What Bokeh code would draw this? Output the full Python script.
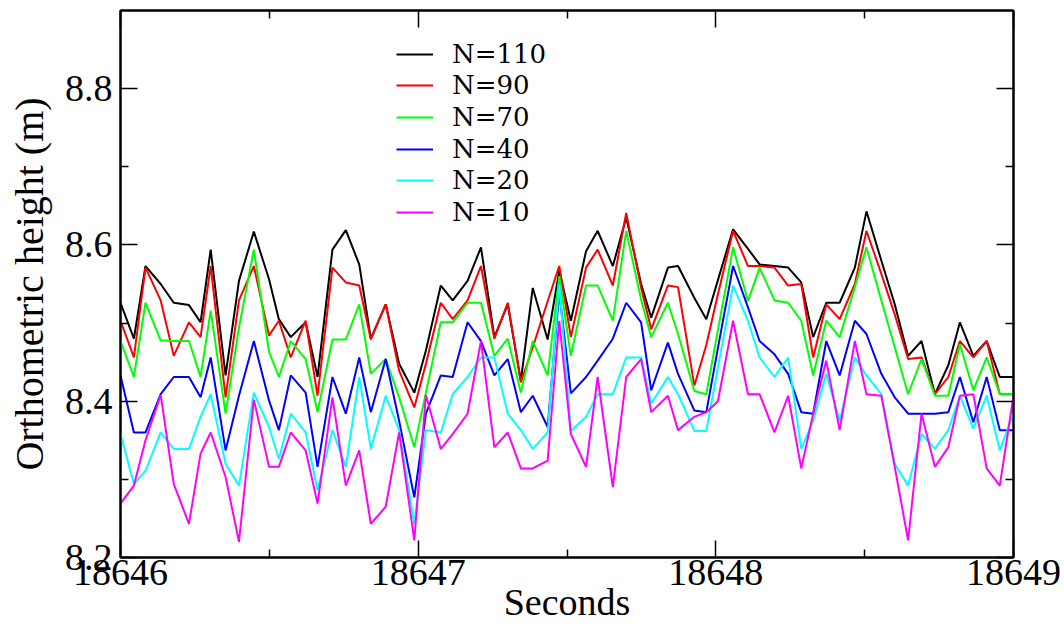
from bokeh.plotting import figure
from bokeh.models import (FixedTicker, LinearAxis, Legend, LegendItem,
                          Range1d, NumeralTickFormatter)
from bokeh.embed import file_html
from bokeh.resources import INLINE

# time stamps (s)
t = [18646.000, 18646.045, 18646.084, 18646.135, 18646.179, 18646.230, 18646.269,
     18646.303, 18646.353, 18646.398, 18646.448, 18646.499, 18646.532, 18646.572,
     18646.622, 18646.662, 18646.712, 18646.757, 18646.802, 18646.841, 18646.891,
     18646.936, 18646.987, 18647.026, 18647.076, 18647.116, 18647.166, 18647.211,
     18647.256, 18647.301, 18647.345, 18647.385, 18647.435, 18647.474, 18647.513,
     18647.564, 18647.603, 18647.654, 18647.699, 18647.749, 18647.783, 18647.839,
     18647.873, 18647.928, 18647.968, 18648.007, 18648.058, 18648.108, 18648.147,
     18648.197, 18648.243, 18648.287, 18648.327, 18648.371, 18648.416, 18648.467,
     18648.506, 18648.556, 18648.601, 18648.646, 18648.691, 18648.736, 18648.781,
     18648.820, 18648.865, 18648.910, 18648.954, 18649.000]

n110 = [8.526, 8.480, 8.573, 8.550, 8.526, 8.523, 8.501, 8.594, 8.433, 8.554,
        8.617, 8.556, 8.505, 8.482, 8.501, 8.431, 8.594, 8.619, 8.575, 8.480,
        8.524, 8.448, 8.411, 8.465, 8.548, 8.529, 8.554, 8.597, 8.482, 8.524,
        8.426, 8.545, 8.479, 8.567, 8.503, 8.592, 8.618, 8.573, 8.635, 8.550,
        8.507, 8.571, 8.573, 8.532, 8.505, 8.555, 8.620, 8.595, 8.575, 8.573,
        8.571, 8.552, 8.482, 8.526, 8.526, 8.571, 8.643, 8.580, 8.524, 8.458,
        8.477, 8.409, 8.446, 8.501, 8.458, 8.477, 8.431, 8.431]

n90 = [8.503, 8.456, 8.571, 8.529, 8.458, 8.501, 8.482, 8.573, 8.405, 8.529,
       8.573, 8.484, 8.503, 8.456, 8.503, 8.407, 8.571, 8.552, 8.548, 8.479,
       8.524, 8.439, 8.392, 8.448, 8.526, 8.505, 8.529, 8.573, 8.480, 8.526,
       8.424, 8.469, 8.528, 8.573, 8.482, 8.571, 8.594, 8.548, 8.641, 8.545,
       8.492, 8.548, 8.546, 8.420, 8.472, 8.537, 8.618, 8.573, 8.573, 8.571,
       8.548, 8.550, 8.456, 8.524, 8.505, 8.550, 8.618, 8.563, 8.511, 8.454,
       8.456, 8.409, 8.431, 8.477, 8.456, 8.477, 8.409, 8.409]

n70 = [8.477, 8.431, 8.526, 8.478, 8.477, 8.477, 8.431, 8.516, 8.384, 8.494,
       8.594, 8.463, 8.431, 8.477, 8.454, 8.386, 8.479, 8.479, 8.524, 8.435,
       8.454, 8.405, 8.341, 8.411, 8.501, 8.501, 8.526, 8.526, 8.458, 8.480,
       8.411, 8.477, 8.433, 8.560, 8.458, 8.548, 8.548, 8.503, 8.618, 8.530,
       8.482, 8.526, 8.486, 8.413, 8.409, 8.491, 8.597, 8.528, 8.571, 8.529,
       8.526, 8.503, 8.433, 8.503, 8.482, 8.546, 8.597, 8.529, 8.469, 8.409,
       8.454, 8.407, 8.407, 8.473, 8.414, 8.456, 8.409, 8.409]

n40 = [8.433, 8.360, 8.360, 8.409, 8.431, 8.431, 8.405, 8.456, 8.337, 8.407,
       8.477, 8.401, 8.363, 8.433, 8.411, 8.316, 8.431, 8.384, 8.456, 8.386,
       8.454, 8.375, 8.277, 8.384, 8.433, 8.431, 8.501, 8.477, 8.433, 8.454,
       8.386, 8.407, 8.367, 8.540, 8.410, 8.431, 8.452, 8.480, 8.526, 8.501,
       8.414, 8.475, 8.435, 8.388, 8.386, 8.468, 8.573, 8.520, 8.477, 8.460,
       8.435, 8.386, 8.384, 8.477, 8.433, 8.503, 8.486, 8.435, 8.405, 8.384,
       8.384, 8.384, 8.386, 8.431, 8.373, 8.431, 8.363, 8.363]

n20 = [8.358, 8.294, 8.311, 8.360, 8.339, 8.339, 8.380, 8.409, 8.320, 8.292,
       8.411, 8.367, 8.326, 8.384, 8.360, 8.286, 8.363, 8.316, 8.431, 8.339,
       8.407, 8.363, 8.243, 8.363, 8.360, 8.409, 8.431, 8.456, 8.456, 8.384,
       8.363, 8.339, 8.360, 8.550, 8.362, 8.380, 8.409, 8.409, 8.456, 8.456,
       8.397, 8.431, 8.409, 8.362, 8.362, 8.443, 8.548, 8.503, 8.456, 8.431,
       8.456, 8.339, 8.375, 8.435, 8.375, 8.456, 8.433, 8.409, 8.320, 8.292,
       8.358, 8.339, 8.363, 8.407, 8.365, 8.407, 8.337, 8.384]

n10 = [8.269, 8.292, 8.350, 8.408, 8.294, 8.243, 8.333, 8.360, 8.303, 8.220,
       8.402, 8.316, 8.316, 8.360, 8.337, 8.269, 8.405, 8.292, 8.337, 8.243,
       8.265, 8.360, 8.222, 8.408, 8.339, 8.358, 8.384, 8.477, 8.341, 8.360,
       8.314, 8.314, 8.324, 8.503, 8.358, 8.316, 8.431, 8.290, 8.431, 8.454,
       8.386, 8.407, 8.363, 8.380, 8.386, 8.400, 8.503, 8.409, 8.409, 8.360,
       8.407, 8.314, 8.384, 8.452, 8.363, 8.477, 8.409, 8.407, 8.316, 8.222,
       8.384, 8.316, 8.341, 8.407, 8.409, 8.314, 8.292, 8.407]

series_labels = ["N=110", "N=90", "N=70", "N=40", "N=20", "N=10"]
series_colors = ["#000000", "#ff0000", "#00ff00", "#0000ff", "#00ffff", "#ff00ff"]
series_values = [n110, n90, n70, n40, n20, n10]

x_ticks = [18646, 18647, 18648, 18649]
x_minor = [18646.5, 18647.5, 18648.5]
y_ticks = [8.2, 8.4, 8.6, 8.8]
y_minor = [8.3, 8.5, 8.7]

FONT = "Liberation Serif"
LEGEND_FONT = "DejaVu Serif"
FRAME_H = 547

p = figure(width=1064, height=626, output_backend="svg", toolbar_location=None,
           x_range=Range1d(18646, 18649), y_range=Range1d(8.2, 8.9),
           min_border_left=120, min_border_right=51, min_border_top=10,
           min_border_bottom=69, background_fill_color="white",
           border_fill_color="white")
p.xgrid.visible = False
p.ygrid.visible = False
p.outline_line_color = "black"
p.outline_line_width = 2

renderers = []
for vals, col in zip(series_values, series_colors):
    r = p.line(t, vals, line_color=col, line_width=2)
    renderers.append(r)


def style_axis(ax, ticks, minor, show_labels):
    ax.ticker = FixedTicker(ticks=ticks, minor_ticks=minor)
    ax.axis_line_width = 2
    ax.axis_line_color = "black"
    ax.major_tick_in = 17
    ax.major_tick_out = 0
    ax.minor_tick_in = 8
    ax.minor_tick_out = 0
    ax.major_tick_line_width = 1.5
    ax.minor_tick_line_width = 1.5
    ax.major_tick_line_color = "black"
    ax.minor_tick_line_color = "black"
    if show_labels:
        ax.major_label_text_font = FONT
        ax.major_label_text_color = "black"
    else:
        ax.major_label_text_color = None
        ax.major_label_text_font_size = "1px"
        ax.major_label_standoff = 0


xa = p.xaxis[0]
style_axis(xa, x_ticks, x_minor, True)
xa.formatter = NumeralTickFormatter(format="0")
xa.major_label_text_font_size = "38px"
xa.major_label_standoff = 2
xa.axis_label = "Seconds"
xa.axis_label_text_font = FONT
xa.axis_label_text_font_size = "38px"
xa.axis_label_text_font_style = "normal"
xa.axis_label_text_color = "black"
xa.axis_label_standoff = -7

ya = p.yaxis[0]
style_axis(ya, y_ticks, y_minor, True)
ya.formatter = NumeralTickFormatter(format="0.0")
ya.major_label_text_font_size = "38px"
ya.major_label_standoff = 8
ya.axis_label = "Orthometric height (m)"
ya.axis_label_text_font = FONT
ya.axis_label_text_font_size = "40px"
ya.axis_label_text_font_style = "normal"
ya.axis_label_text_color = "black"
ya.axis_label_standoff = 10

top = LinearAxis()
style_axis(top, x_ticks, x_minor, False)
p.add_layout(top, "above")
right = LinearAxis()
style_axis(right, y_ticks, y_minor, False)
p.add_layout(right, "right")

# one legend per entry so the rows sit at the reference spacing
ROW0 = 43.3      # first row centre, px below frame top
ROW_STEP = 31.7  # row pitch, px
HALF_ROW = 15.3  # half the height Bokeh gives one legend row
for k, (lab, r) in enumerate(zip(series_labels, renderers)):
    centre = ROW0 + k * ROW_STEP
    leg = Legend(items=[LegendItem(label=lab, renderers=[r])],
                 location=(276, FRAME_H - centre - HALF_ROW),
                 orientation="vertical",
                 background_fill_alpha=0, border_line_alpha=0,
                 label_text_font=LEGEND_FONT, label_text_font_size="26px",
                 label_text_color="black",
                 glyph_width=37, glyph_height=20, label_standoff=19,
                 spacing=0, padding=0, margin=0)
    p.add_layout(leg)

open("out.html", "w").write(file_html(p, INLINE))
